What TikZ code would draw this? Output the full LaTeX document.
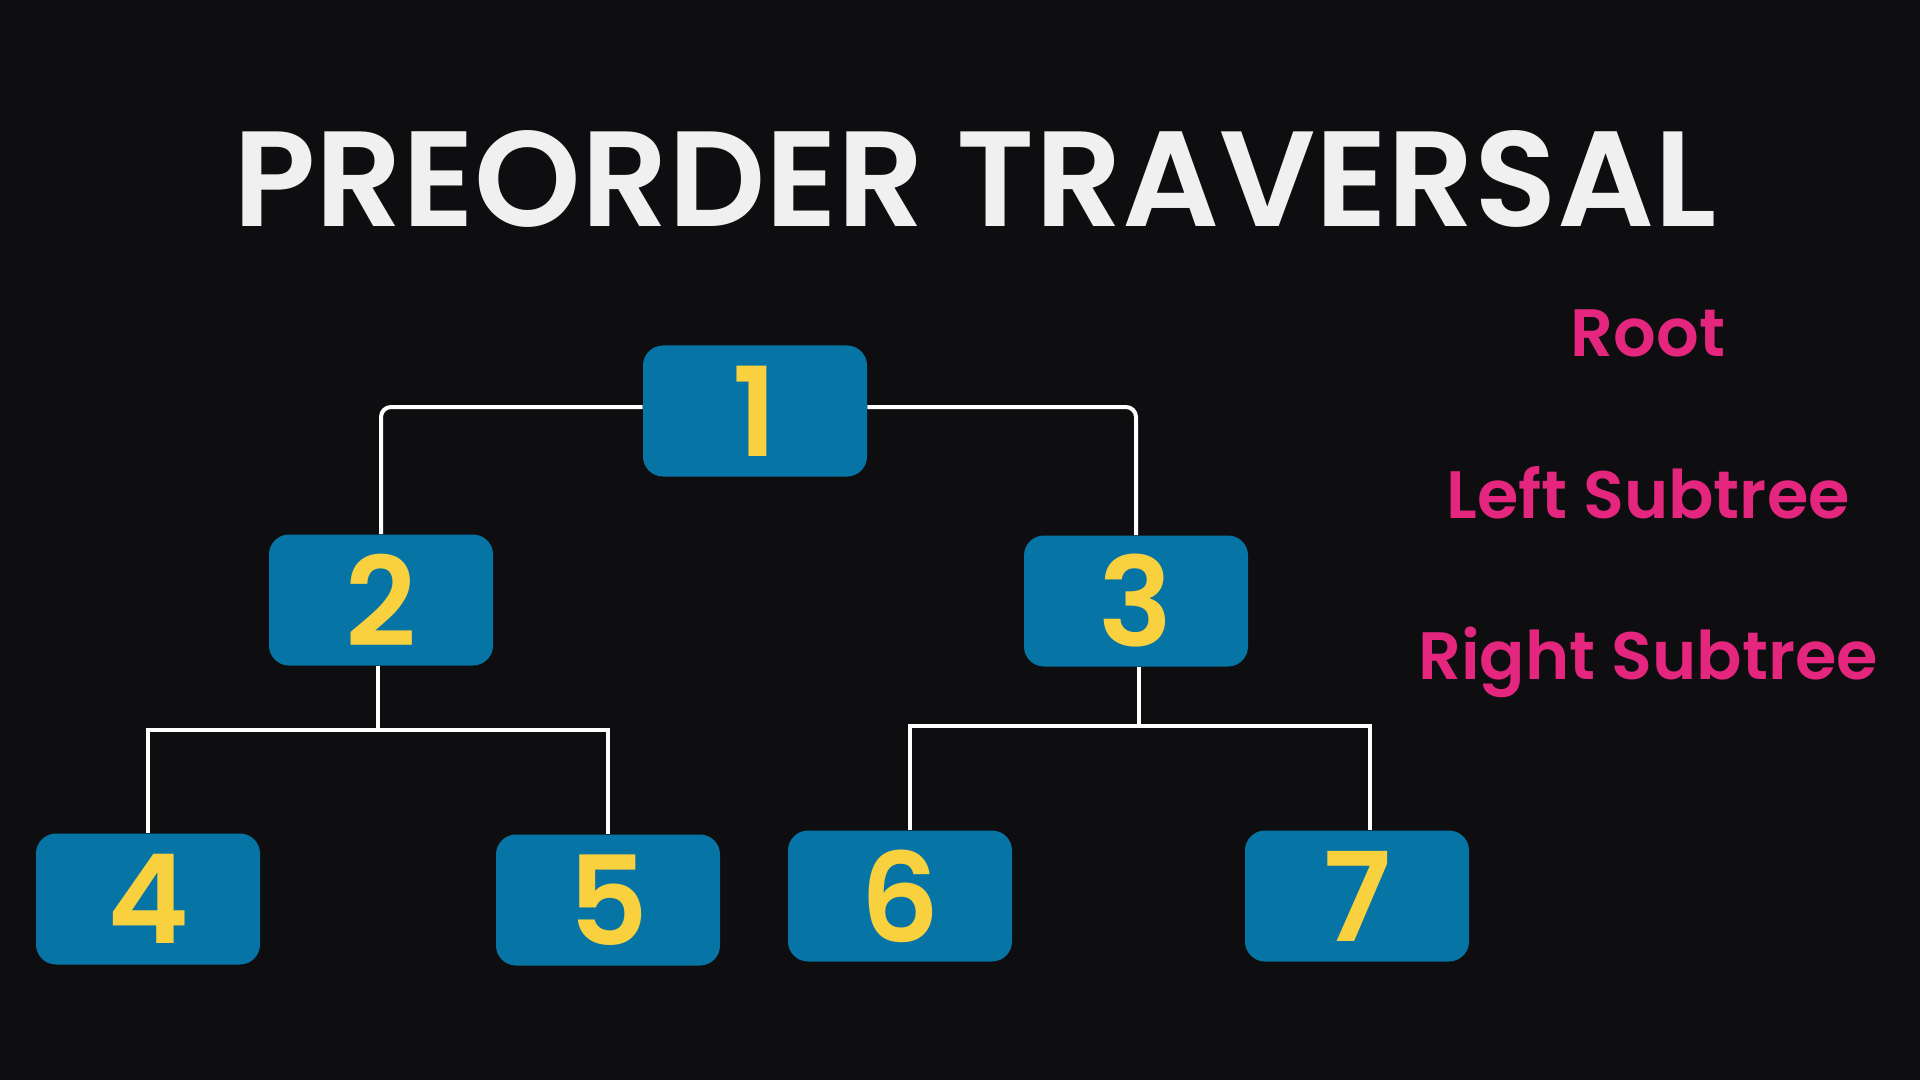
\documentclass[tikz,border=0pt]{standalone}
\usepackage{fontspec}
\setmainfont{Poppins}
\newfontfamily\titlefont{Poppins}[UprightFont={* SemiBold}]
\newfontfamily\numfont{Poppins}[UprightFont={* SemiBold}]
\newfontfamily\labfont{Poppins}[UprightFont={* SemiBold}]
\definecolor{bg}{HTML}{0E0E10}
\definecolor{nodeblue}{HTML}{0774A6}
\definecolor{digit}{HTML}{F9D13E}
\definecolor{pinkl}{HTML}{E4267F}
\definecolor{titlew}{HTML}{F0F0F0}
\tikzset{
  tnode/.style={rectangle, rounded corners=10pt, fill=nodeblue, text=digit,
    minimum width=112pt, minimum height=65.5pt, inner sep=0pt,
    font=\numfont\fontsize{62}{62}\selectfont},
  conn/.style={draw=white, line width=2pt},
  lab/.style={text=pinkl, font=\labfont\fontsize{33.5}{33.5}\selectfont, anchor=base},
}
\begin{document}
\begin{tikzpicture}[x=0.5pt,y=-0.5pt]
\fill[bg] (0,0) rectangle (1920,1080);
\useasboundingbox (0,0) rectangle (1920,1080);
\node[text=titlew, font=\titlefont\fontsize{67.8}{67.8}\selectfont, anchor=base] (title) at (975,227) {PREORDER TRAVERSAL};
\node[tnode] (n1) at (755,411) {1};
\node[tnode] (n2) at (381,600) {2};
\node[tnode] (n3) at (1136,601) {3};
\node[tnode] (n4) at (148,899) {4};
\node[tnode] (n5) at (608,900) {5};
\node[tnode] (n6) at (900,896) {6};
\node[tnode] (n7) at (1357,896) {7};
\coordinate (b2) at (378,730);
\coordinate (b3) at (1139,726);
\coordinate (d6) at (910,830);
\coordinate (d7) at (1370,830);
\draw[conn, rounded corners=5pt] ([yshift=2pt]n1.west) -| (n2.north);
\draw[conn, rounded corners=5pt] ([yshift=2pt]n1.east) -| (n3.north);
\draw[conn] (n2.south -| b2) -- (b2);
\draw[conn] (b2) -| (n4.north);
\draw[conn] (b2) -| (n5.north);
\draw[conn] (n3.south -| b3) -- (b3);
\draw[conn] (b3) -| (d6);
\draw[conn] (b3) -| (d7);
\node[lab] (root) at (1648,357) {Root};
\node[lab] (left) at (1648,518) {Left Subtree};
\node[lab] (right) at (1648,679) {Right Subtree};
\end{tikzpicture}
\end{document}
